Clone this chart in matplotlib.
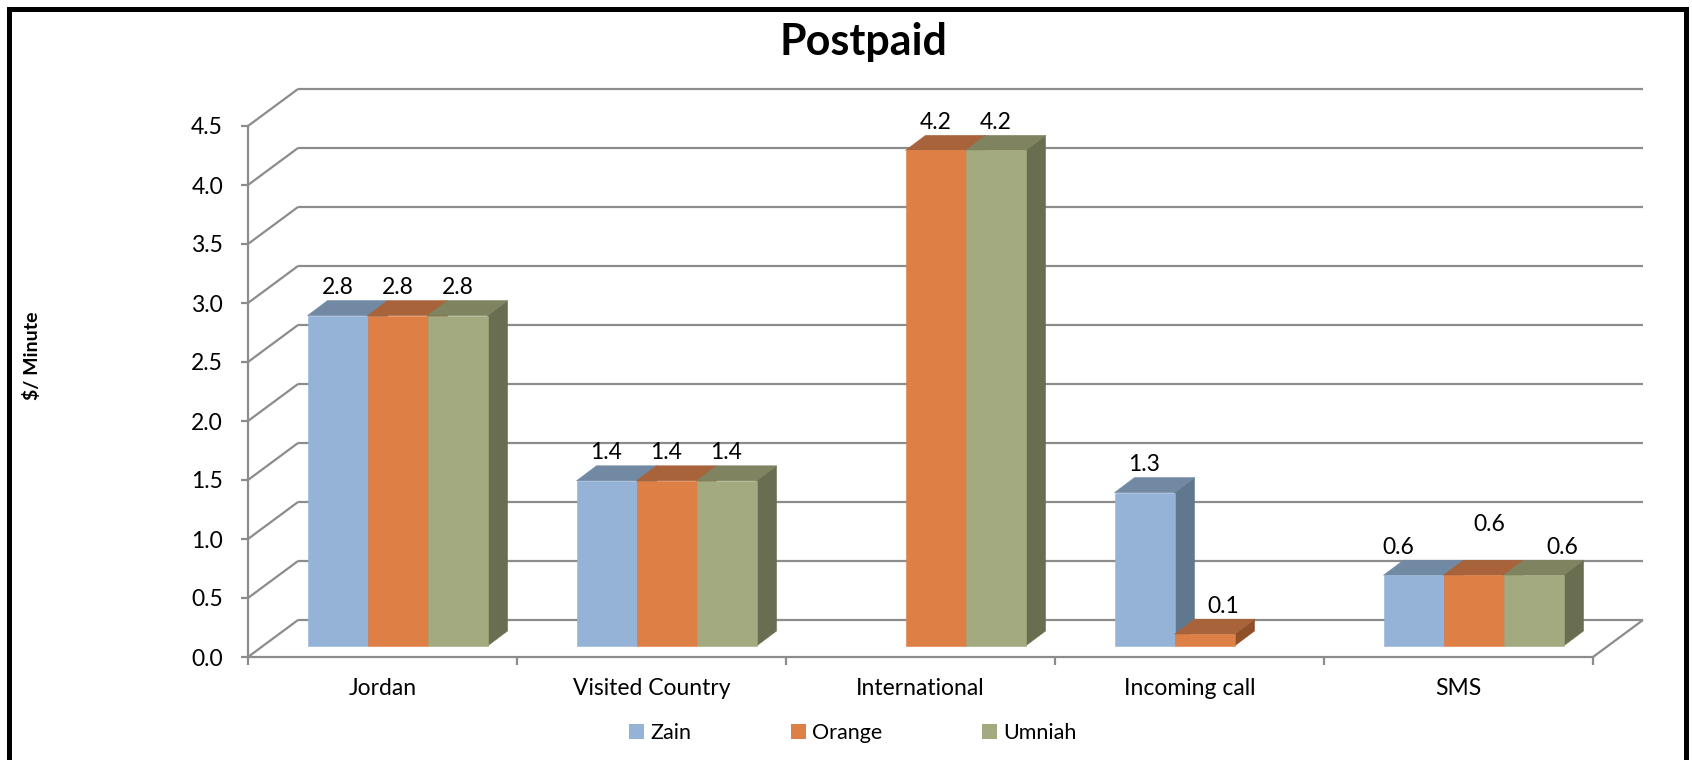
import matplotlib
matplotlib.use("Agg")
import matplotlib.pyplot as plt
import matplotlib.transforms as mtransforms
from matplotlib.patches import Polygon, Rectangle

# Data
categories = ["Jordan", "Visited Country", "International", "Incoming call", "SMS"]
series = ["Zain", "Orange", "Umniah"]
zain = [2.8, 1.4, 0.0, 1.3, 0.6]
orange = [2.8, 1.4, 4.2, 0.1, 0.6]
umniah = [2.8, 1.4, 4.2, 0.0, 0.6]
yticks = [0.0, 0.5, 1.0, 1.5, 2.0, 2.5, 3.0, 3.5, 4.0, 4.5]

front_colors = ["#95B3D7", "#DE7F45", "#A4AA7F"]
top_colors = ["#7189A3", "#A9633A", "#7F8360"]
side_colors = ["#5F7890", "#8F4F28", "#6A6E50"]
grid_color = "#8C8C8C"

plt.rcParams["font.family"] = ["Lato", "DejaVu Sans"]

W, H = 1692, 760
fig = plt.figure(figsize=(W / 100, H / 100), dpi=100)

# front plane of the 3d box (pixels)
left, right, bottom, top = 248, 1593, 657, 126
ax = fig.add_axes([left / W, 1 - bottom / H, (right - left) / W, (bottom - top) / H])
ax.set_xlim(-0.5, len(categories) - 0.5)
ax.set_ylim(0, 4.5)
ax.patch.set_visible(False)

px_x = (right - left) / len(categories)
px_y = (bottom - top) / 4.5


def shift(dx, dy):
    return ax.transData + mtransforms.ScaledTranslation(dx / 100, dy / 100, fig.dpi_scale_trans)


# walls and floor
floor_dx, floor_dy = 50, 37
grid_kw = dict(color=grid_color, lw=1.6, clip_on=False, zorder=1, solid_capstyle="butt")
x_lo, x_hi = -0.5, len(categories) - 0.5
for v in yticks:
    ax.plot([x_lo, x_hi], [v, v], transform=shift(floor_dx, floor_dy), **grid_kw)
    ax.plot([x_lo, x_lo + floor_dx / px_x], [v, v + floor_dy / px_y], **grid_kw)
ax.plot([x_hi, x_hi + floor_dx / px_x], [0, floor_dy / px_y], **grid_kw)

# bars
values = [zain, orange, umniah]
bar_w = 60 / px_x
ddx, ddy = 20 / px_x, 15 / px_y
bar_shift = (15, 11)
label_nudge = {(4, 0): (-15, 0), (4, 1): (16, 23), (4, 2): (29, 0), (3, 1): (19, 0)}

z = 3
for c in range(len(categories)):
    for s in range(len(series)):
        v = values[s][c]
        if v == 0:
            continue
        x0 = c + (s - 1.5) * bar_w
        x1 = x0 + bar_w
        tr = shift(*bar_shift)
        side = Polygon([(x1, 0), (x1 + ddx, ddy), (x1 + ddx, v + ddy), (x1, v)], closed=True,
                       fc=side_colors[s], ec=side_colors[s], lw=0.4, transform=tr, zorder=z, clip_on=False)
        ax.add_patch(side)
        topf = Polygon([(x0, v), (x1, v), (x1 + ddx, v + ddy), (x0 + ddx, v + ddy)], closed=True,
                       fc=top_colors[s], ec=top_colors[s], lw=0.4, transform=tr, zorder=z + 0.1, clip_on=False)
        ax.add_patch(topf)
        bars = ax.bar(x0, v, bar_w, align="edge", color=front_colors[s], ec=front_colors[s],
                      lw=0.4, zorder=z + 0.2)
        for p in bars.patches:
            p.set_transform(tr)
            p.set_clip_on(False)
        ndx, ndy = label_nudge.get((c, s), (0, 0))
        ax.text(x0 + bar_w / 2, v, f"{v:.1f}", ha="center", va="center", fontsize=16.5,
                transform=shift(bar_shift[0] + ndx, bar_shift[1] + 28 + ndy), zorder=20)
        z += 1

# axes styling
for sp in ["top", "right"]:
    ax.spines[sp].set_visible(False)
for sp in ["left", "bottom"]:
    ax.spines[sp].set_color(grid_color)
    ax.spines[sp].set_linewidth(1.6)
    ax.spines[sp].set_zorder(1)

ax.set_yticks(yticks, [f"{t:.1f}" for t in yticks])
ax.tick_params(axis="y", length=5, width=1.6, color=grid_color, pad=13, labelsize=16.5)
ax.set_xticks([i - 0.5 for i in range(len(categories) + 1)], [""] * (len(categories) + 1))
ax.set_xticks(range(len(categories)), categories, minor=True)
ax.tick_params(axis="x", which="major", length=6, width=1.6, color=grid_color)
ax.tick_params(axis="x", which="minor", length=0, pad=15, labelsize=16.5)

# title, axis label, legend
fig.text(863 / W, 1 - 42 / H, "Postpaid", ha="center", va="center", fontsize=31, fontweight="bold")
fig.text(32 / W, 1 - 356 / H, "$/ Minute", ha="center", va="center", rotation=90,
         fontsize=14, fontweight="bold")

handles = [Rectangle((0, 0), 1, 1, fc=col, lw=0) for col in front_colors]
fig.legend(handles, series, loc="center", bbox_to_anchor=(853 / W, 1 - 733 / H), ncol=3,
           frameon=False, fontsize=15.5, handlelength=0.7, handleheight=0.7,
           handletextpad=0.3, columnspacing=4.6)

# outer frame
fig.add_artist(Rectangle((9 / W, -0.05), (1686 - 9) / W, 1.05 - 9 / H, fill=False,
                         ec="black", lw=3.6, transform=fig.transFigure))

fig.savefig("out.png", dpi=100)
